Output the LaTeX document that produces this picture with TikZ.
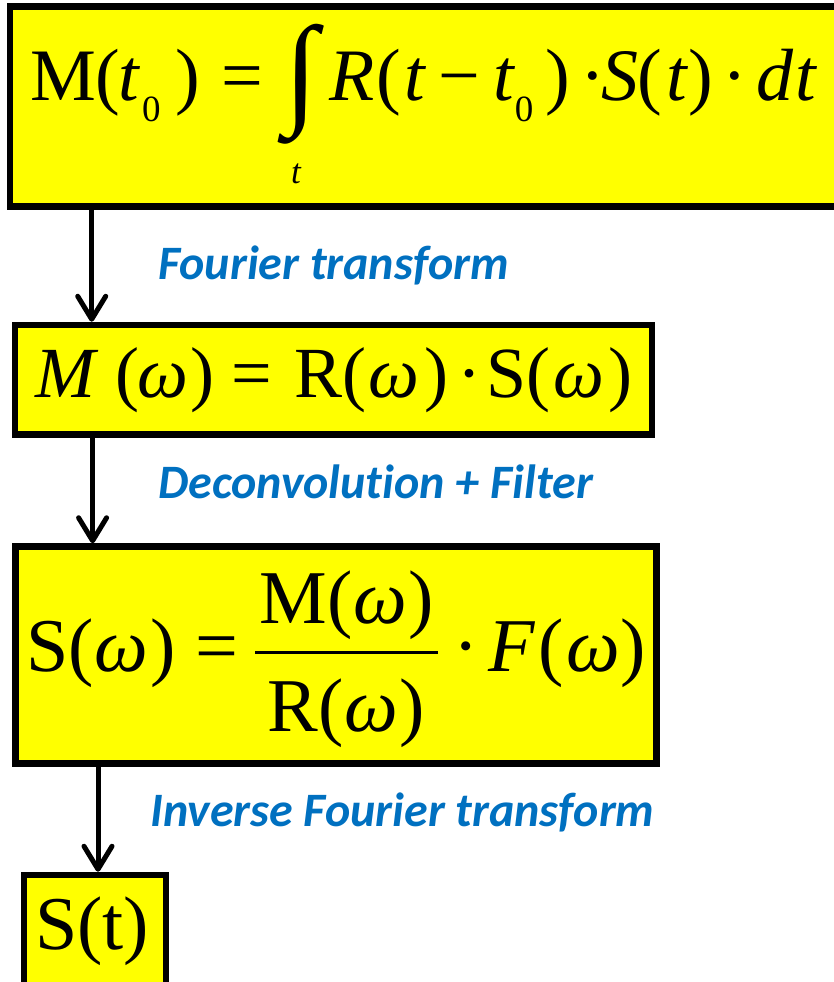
\documentclass[tikz,border=0pt]{standalone}
\usepackage{fontspec}
\usepackage{graphicx}
\setmainfont{Liberation Serif}
\newfontfamily\labfont{Carlito}[Ligatures=NoCommon]
\usetikzlibrary{arrows.meta}
\definecolor{boxyellow}{RGB}{255,255,0}
\definecolor{labblue}{RGB}{0,112,192}
\newcommand{\fs}[1]{\fontsize{#1}{#1}\selectfont}
\newcommand{\sbz}{\raisebox{-21pt}{\fs{37}0}}
\tikzset{
  box/.style={draw=black, fill=boxyellow, line width=6.5pt, inner sep=0pt, outer sep=3.25pt, rectangle},
  flow/.style={line width=5pt, -{Straight Barb[length=23pt,width=28pt,line cap=round,line join=round]}},
  lab/.style={text=labblue, font=\labfont\bfseries\itshape\fs{48}, anchor=base west, inner sep=0pt},
  eq/.style={anchor=base west, inner sep=0pt, font=\fs{74}},
  eqc/.style={anchor=base, inner sep=0pt, font=\fs{76}},
}
\begin{document}
\begin{tikzpicture}[x=1pt,y=-1pt]
\useasboundingbox (0,0) rectangle (833,982);
% boxes
\node[box, minimum width=835pt, minimum height=200pt] (top) at (427.5,106.7) {};
\node[box, minimum width=637pt, minimum height=109.5pt] (b2) at (333.5,379.75) {};
\node[box, minimum width=641pt, minimum height=217pt] (b3) at (336,655) {};
\node[box, minimum width=142pt, minimum height=125pt] (b4) at (95,937.5) {};
% top formula
\node[eq] (eqA) at (29.8,100.7) {M(\hspace{-2pt}{\itshape t}\hspace{3pt}\sbz\hspace{15pt})\hspace{21pt}=};
\node[inner sep=0pt] (int) at (301,84) {\resizebox*{!}{120pt}{∫}};
\node[anchor=base, inner sep=0pt, font=\itshape\fs{35}] (lim) at (296,183) {t};
\node[eq] (eqB) at (329,100.7) {{\itshape R}\hspace{2pt}(\hspace{3pt}{\itshape t}\hspace{14pt}−\hspace{13pt}{\itshape t}\hspace{1pt}\sbz\hspace{12pt})\hspace{10pt}·\hspace{-3pt}{\itshape S}\hspace{-1pt}(\hspace{4pt}{\itshape t}\hspace{2pt})\hspace{9pt}·\hspace{9pt}{\itshape d}\hspace{2pt}{\itshape t}};
% box 2 formula
\node[eq, font=\fs{72}] (eq2) at (35,397) {{\itshape M}\hspace{20pt}(\hspace{-2pt}{\itshape ω}\hspace{3pt})\hspace{17pt}=\hspace{22pt}R(\hspace{2pt}{\itshape ω}\hspace{5pt})\hspace{9pt}·\hspace{5pt}S(\hspace{3pt}{\itshape ω}\hspace{4pt})};
% box 3 formula
\node[eq, font=\fs{76}] (eq3a) at (26,671.7) {S(\hspace{1pt}{\itshape ω}\hspace{2pt})\hspace{20pt}=};
\node[eqc] (num) at (346.5,623) {M(\hspace{1pt}{\itshape ω}\hspace{1pt})};
\node[eqc] (den) at (346,731.7) {R(\hspace{1pt}{\itshape ω}\hspace{1pt})};
\coordinate (barL) at (255,652.7);
\coordinate (barR) at (438,652.7);
\draw[line width=3.5pt] (barL) -- (barR);
\node[eq, font=\fs{76}] (eq3b) at (453.7,671.7) {·\hspace{9pt}{\itshape F}\hspace{4pt}(\hspace{3pt}{\itshape ω}\hspace{0pt})};
% box 4
\node[eq, font=\fs{76}] (eq4) at (34.8,949) {S(t)};
% arrows
\coordinate (x1) at (91.7,0);
\coordinate (x2) at (92.6,0);
\coordinate (x3) at (98,0);
\draw[flow] (top.south -| x1) -- (b2.north -| x1);
\draw[flow] (b2.south -| x2) -- (b3.north -| x2);
\draw[flow] (b3.south -| x3) -- (b4.north -| x3);
% labels
\node[lab] (l1) at (158,279) {Fourier transform};
\node[lab] (l2) at (158,498) {Deconvolution + Filter};
\node[lab] (l3) at (150,826) {Inverse Fourier transform};
\end{tikzpicture}
\end{document}
